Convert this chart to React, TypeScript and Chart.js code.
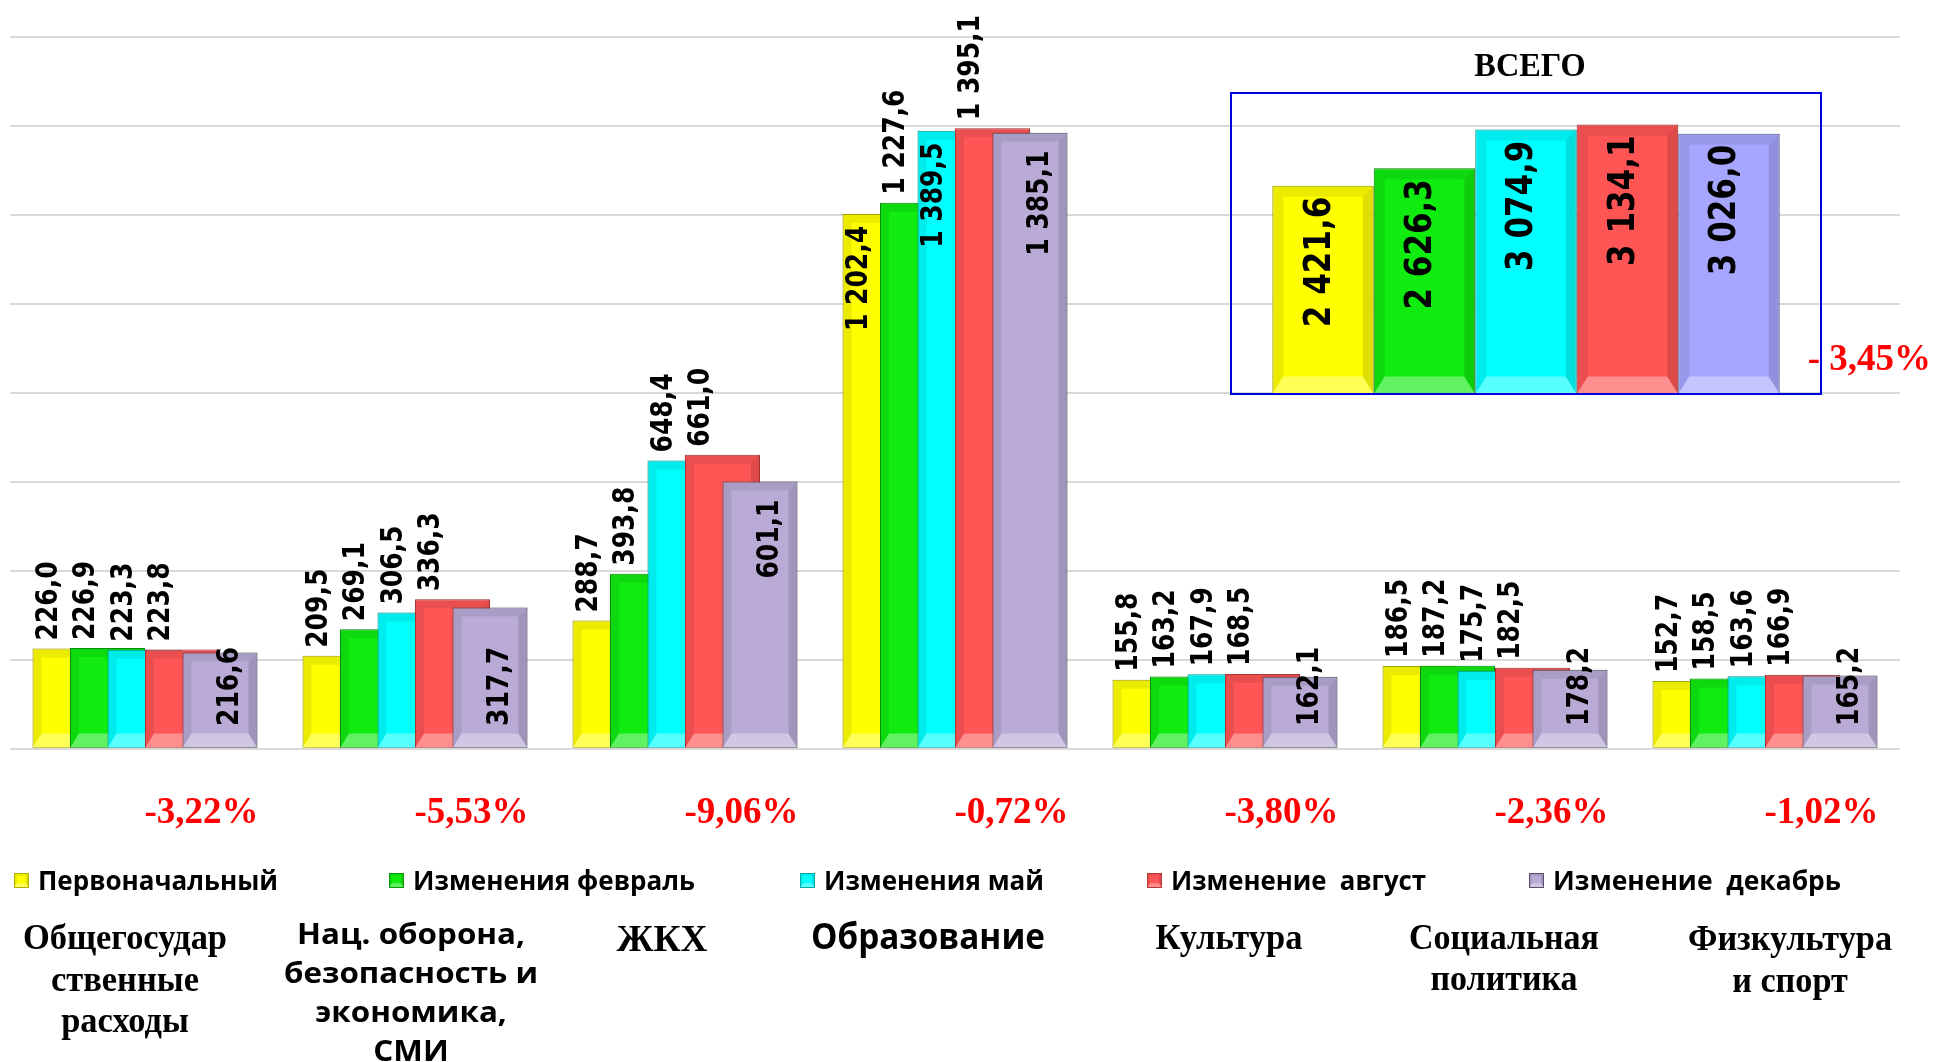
import React, { useEffect, useRef } from "react";
import { Chart, registerables } from "chart.js";

Chart.register(...registerables);

// ---------------- DATA ----------------
const categories: string[][] = [
  ["Общегосудар", "ственные", "расходы"],
  ["Нац. оборона,", "безопасность и", "экономика,", "СМИ"],
  ["ЖКХ"],
  ["Образование"],
  ["Культура"],
  ["Социальная", "политика"],
  ["Физкультура", "и спорт"],
];
const seriesNames = [
  "Первоначальный",
  "Изменения февраль",
  "Изменения май",
  "Изменение  август",
  "Изменение  декабрь",
];
const initialPlan = [226.0, 209.5, 288.7, 1202.4, 155.8, 186.5, 152.7];
const februaryChange = [226.9, 269.1, 393.8, 1227.6, 163.2, 187.2, 158.5];
const mayChange = [223.3, 306.5, 648.4, 1389.5, 167.9, 175.7, 163.6];
const augustChange = [223.8, 336.3, 661.0, 1395.1, 168.5, 182.5, 166.9];
const decemberChange = [216.6, 317.7, 601.1, 1385.1, 162.1, 178.2, 165.2];
const changePercent = [-3.22, -5.53, -9.06, -0.72, -3.8, -2.36, -1.02];

const totalTitle = "ВСЕГО";
const totals = [2421.6, 2626.3, 3074.9, 3134.1, 3026.0];
const totalChangePercent = -3.45;

const yAxisMain = { min: 0, max: 1600, step: 200 };
const yAxisTotal = { min: 0, max: 3500 };

// ---------------- STYLE / LAYOUT ----------------
const COLORS = ["#FFFF00", "#10EC10", "#00FFFF", "#FF5555", "#B9ABD6"];
const BORDERS = ["#B0B000", "#0A9A0A", "#00A8A8", "#B83A3A", "#555064"];
const TOTAL_COLORS = ["#FFFF00", "#10EC10", "#00FFFF", "#FF5555", "#A6A6FF"];
const TOTAL_BORDERS = ["#B0B000", "#0A9A0A", "#00A8A8", "#B83A3A", "#5E5E9E"];

const SERIF = "'Liberation Serif', 'Times New Roman', serif";
const SANS = "'Open Sans', 'Noto Sans', sans-serif";
const LABEL_FONT = "'DejaVu Sans', Verdana, sans-serif";

// labels of these bars (category:series) are drawn inside the top of the bar
const insideTopLabels = new Set(["3:0", "3:2"]);

const LEGEND_LAYOUT = [
  { x: 13, w: 240 },
  { x: 388, w: 282 },
  { x: 799, w: 220 },
  { x: 1146, w: 255 },
  { x: 1528, w: 288 },
];

const CATEGORY_LAYOUT = [
  { cx: 125, fam: SERIF, size: 35, base: 949, lh: 41.5, w: 204 },
  { cx: 411, fam: SANS, size: 29, base: 944, lh: 39, w: 228 },
  { cx: 662, fam: SERIF, size: 37, base: 951, lh: 40, w: 91 },
  { cx: 928, fam: SANS, size: 35, base: 949, lh: 40, w: 234 },
  { cx: 1229, fam: SERIF, size: 35, base: 949, lh: 41, w: 147 },
  { cx: 1504, fam: SERIF, size: 35, base: 949, lh: 41, w: 190 },
  { cx: 1790, fam: SERIF, size: 35, base: 950, lh: 42, w: 204 },
];

// ---------------- HELPERS ----------------
function fmtValue(v: number): string {
  const [i, d] = v.toFixed(1).split(".");
  return i.replace(/\B(?=(\d{3})+(?!\d))/g, " ") + "," + d;
}
function fmtPct(v: number): string {
  return v.toFixed(2).replace(".", ",") + "%";
}
function fmtTotalPct(v: number): string {
  return (v < 0 ? "- " : "") + Math.abs(v).toFixed(2).replace(".", ",") + "%";
}

function poly(ctx: CanvasRenderingContext2D, pts: number[][], fill: string) {
  ctx.beginPath();
  ctx.moveTo(pts[0][0], pts[0][1]);
  for (let i = 1; i < pts.length; i++) ctx.lineTo(pts[i][0], pts[i][1]);
  ctx.closePath();
  ctx.fillStyle = fill;
  ctx.fill();
}

function drawBevel(ctx: CanvasRenderingContext2D, l: number, t: number, r: number, b: number, size: number) {
  const h = b - t;
  const w = r - l;
  if (h <= 2 || w <= 2) return;
  const s = Math.min(size, w / 4, h / 4);
  const sb = Math.min(size * 1.6, h / 3);
  poly(ctx, [[l, t], [r, t], [r - s, t + s], [l + s, t + s]], "rgba(0,0,0,0.08)");
  poly(ctx, [[l, b], [r, b], [r - s, b - sb], [l + s, b - sb]], "rgba(255,255,255,0.34)");
  poly(ctx, [[l, t], [l + s, t + s], [l + s, b - sb], [l, b]], "rgba(0,0,0,0.08)");
  poly(ctx, [[r, t], [r - s, t + s], [r - s, b - sb], [r, b]], "rgba(0,0,0,0.13)");
}

function barRect(el: any) {
  const p = el.getProps(["x", "y", "base", "width"], true);
  return { x: p.x, top: Math.min(p.y, p.base), bottom: Math.max(p.y, p.base), w: p.width };
}

// vertical text (reading bottom to top); glyphs stretched across by `stretch`
function drawVertical(ctx: CanvasRenderingContext2D, text: string, x: number, yStart: number, font: string, stretch: number) {
  ctx.save();
  ctx.translate(x, yStart);
  ctx.rotate(-Math.PI / 2);
  ctx.scale(1, stretch);
  ctx.font = font;
  ctx.textAlign = "left";
  ctx.textBaseline = "middle";
  ctx.fillStyle = "#000";
  ctx.fillText(text, 0, 0);
  ctx.restore();
}

function fitLine(ctx: CanvasRenderingContext2D, text: string, x: number, y: number, scaleX: number, align: CanvasTextAlign) {
  ctx.save();
  ctx.translate(x, y);
  ctx.scale(scaleX, 1);
  ctx.textAlign = align;
  ctx.textBaseline = "alphabetic";
  ctx.fillText(text, 0, 0);
  ctx.restore();
}

// draw datasets in index order so later series overlap earlier ones
function orderedDatasetsDraw(chart: any, bevelSize: number) {
  const ctx: CanvasRenderingContext2D = chart.ctx;
  const area = chart.chartArea;
  ctx.save();
  ctx.beginPath();
  ctx.rect(area.left - 2, 0, area.right - area.left + 4, area.bottom + 2);
  ctx.clip();
  chart.data.datasets.forEach((_: any, i: number) => {
    const meta = chart.getDatasetMeta(i);
    if (!meta.visible) return;
    meta.controller.draw();
    meta.data.forEach((el: any) => {
      const r = barRect(el);
      drawBevel(ctx, r.x - r.w / 2, r.top, r.x + r.w / 2, r.bottom, bevelSize);
    });
  });
  ctx.restore();
}

const mainPlugin = {
  id: "mainDecor",
  beforeDatasetsDraw(chart: any) {
    orderedDatasetsDraw(chart, 9);
    return false;
  },
  afterDraw(chart: any) {
    const ctx: CanvasRenderingContext2D = chart.ctx;
    const area = chart.chartArea;
    const n = chart.data.datasets.length;
    const labelFont = `bold 25px ${LABEL_FONT}`;
    const stretch = 1.18;

    // value labels
    for (let i = 0; i < n; i++) {
      const meta = chart.getDatasetMeta(i);
      meta.data.forEach((el: any, j: number) => {
        const r = barRect(el);
        const text = fmtValue(chart.data.datasets[i].data[j]);
        ctx.font = labelFont;
        const tw = ctx.measureText(text).width;
        if (i === n - 1) {
          const h = r.bottom - r.top;
          const yStart = h > 180 ? r.top + 18 + tw : r.bottom - 22;
          drawVertical(ctx, text, r.x + 10, yStart, labelFont, stretch);
        } else {
          const x = r.x - r.w / 4 - 2;
          if (insideTopLabels.has(`${j}:${i}`)) {
            drawVertical(ctx, text, x, r.top + 12 + tw, labelFont, stretch);
          } else {
            drawVertical(ctx, text, x, r.top - 8, labelFont, stretch);
          }
        }
      });
    }

    // percentage change per category (right aligned to last bar)
    const last = chart.getDatasetMeta(n - 1);
    ctx.fillStyle = "#FF0000";
    ctx.font = `bold 37px ${SERIF}`;
    last.data.forEach((el: any, j: number) => {
      const r = barRect(el);
      fitLine(ctx, fmtPct(changePercent[j]), r.x + r.w / 2 + 1, area.bottom + 74, 1, "right");
    });

    // total change
    fitLine(ctx, fmtTotalPct(totalChangePercent), 1931, 370, 1, "right");

    // total title
    ctx.fillStyle = "#000";
    ctx.font = `bold 34px ${SERIF}`;
    fitLine(ctx, totalTitle, 1530, 76, 0.95, "center");

    // legend
    seriesNames.forEach((name, i) => {
      const L = LEGEND_LAYOUT[i];
      const mx = L.x + 1;
      const my = 873;
      ctx.fillStyle = COLORS[i];
      ctx.fillRect(mx, my, 15, 15);
      drawBevel(ctx, mx, my, mx + 15, my + 15, 3);
      ctx.strokeStyle = BORDERS[i];
      ctx.lineWidth = 1;
      ctx.strokeRect(mx + 0.5, my + 0.5, 14, 14);
      ctx.fillStyle = "#000";
      ctx.font = `bold 26px ${SANS}`;
      const w = ctx.measureText(name).width;
      fitLine(ctx, name, L.x + 25, 890, L.w / w, "left");
    });

    // category labels
    categories.forEach((lines, j) => {
      const c = CATEGORY_LAYOUT[j];
      ctx.fillStyle = "#000";
      ctx.font = `bold ${c.size}px ${c.fam}`;
      const w0 = ctx.measureText(lines[0]).width;
      const s = c.w / w0;
      lines.forEach((line, k) => {
        fitLine(ctx, line, c.cx, c.base + k * c.lh, s, "center");
      });
    });
  },
};

const insetPlugin = {
  id: "insetDecor",
  beforeDatasetsDraw(chart: any) {
    orderedDatasetsDraw(chart, 11);
    return false;
  },
  afterDraw(chart: any) {
    const ctx: CanvasRenderingContext2D = chart.ctx;
    const area = chart.chartArea;
    const font = `bold 31px ${LABEL_FONT}`;
    chart.data.datasets.forEach((ds: any, i: number) => {
      const meta = chart.getDatasetMeta(i);
      meta.data.forEach((el: any, j: number) => {
        const r = barRect(el);
        const text = fmtValue(ds.data[j]);
        ctx.font = font;
        const tw = ctx.measureText(text).width;
        drawVertical(ctx, text, r.x - 3, r.top + 11 + tw, font, 1.18);
      });
    });
    ctx.strokeStyle = "#0000DD";
    ctx.lineWidth = 2;
    ctx.strokeRect(area.left, area.top, area.right - area.left, area.bottom - area.top);
  },
};

export default function App() {
  const mainRef = useRef<HTMLCanvasElement | null>(null);
  const insetRef = useRef<HTMLCanvasElement | null>(null);

  useEffect(() => {
    document.body.style.margin = "0";
    document.body.style.overflow = "hidden";
    const series = [initialPlan, februaryChange, mayChange, augustChange, decemberChange];

    const main = new Chart(mainRef.current as HTMLCanvasElement, {
      type: "bar",
      data: {
        labels: categories.map((c) => c.join(" ")),
        datasets: series.map((s, i) => ({
          label: seriesNames[i],
          data: s,
          backgroundColor: COLORS[i],
          borderColor: BORDERS[i],
          borderWidth: 1,
          borderSkipped: false,
          categoryPercentage: 0.6944,
          barPercentage: 2,
        })),
      },
      options: {
        responsive: false,
        animation: false,
        devicePixelRatio: 1,
        events: [],
        layout: { padding: { left: 10, right: 35, top: 37, bottom: 313 } },
        plugins: { legend: { display: false }, tooltip: { enabled: false } },
        scales: {
          x: { display: false },
          y: {
            min: yAxisMain.min,
            max: yAxisMain.max,
            ticks: { stepSize: yAxisMain.step, display: false },
            grid: { color: "#D9D9D9", lineWidth: 2, drawTicks: false },
            border: { display: false },
          },
        },
      } as any,
      plugins: [mainPlugin as any],
    });

    const inset = new Chart(insetRef.current as HTMLCanvasElement, {
      type: "bar",
      data: {
        labels: [totalTitle],
        datasets: totals.map((v, i) => ({
          label: seriesNames[i],
          data: [v],
          backgroundColor: TOTAL_COLORS[i],
          borderColor: TOTAL_BORDERS[i],
          borderWidth: 1,
          borderSkipped: false,
          categoryPercentage: 0.86,
          barPercentage: 1,
        })),
      },
      options: {
        responsive: false,
        animation: false,
        devicePixelRatio: 1,
        events: [],
        layout: { padding: 10 },
        plugins: { legend: { display: false }, tooltip: { enabled: false } },
        scales: {
          x: { display: false },
          y: { display: false, min: yAxisTotal.min, max: yAxisTotal.max },
        },
      } as any,
      plugins: [insetPlugin as any],
    });

    let alive = true;
    const fonts = [
      `bold 25px 'DejaVu Sans'`,
      `bold 30px 'Liberation Serif'`,
      `bold 25px 'Open Sans'`,
    ];
    Promise.all(fonts.map((f) => document.fonts.load(f)))
      .catch(() => null)
      .then(() => {
        if (alive) {
          main.draw();
          inset.draw();
        }
      });

    return () => {
      alive = false;
      main.destroy();
      inset.destroy();
    };
  }, []);

  return (
    <div style={{ position: "relative", width: 1935, height: 1062, overflow: "hidden", background: "#fff" }}>
      <canvas ref={mainRef} width={1935} height={1062} style={{ position: "absolute", left: 0, top: 0 }} />
      <canvas ref={insetRef} width={610} height={321} style={{ position: "absolute", left: 1221, top: 83 }} />
    </div>
  );
}
